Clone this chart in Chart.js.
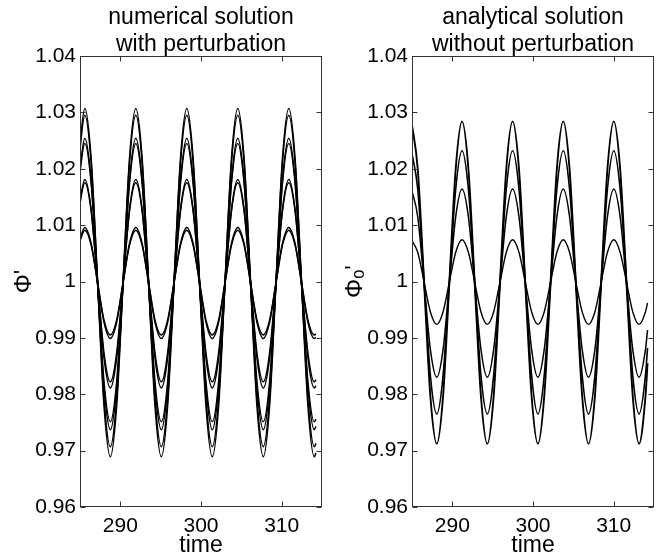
<!DOCTYPE html>
<html>
<head>
<meta charset="utf-8">
<script src="https://cdn.jsdelivr.net/npm/chart.js@4/dist/chart.umd.min.js"></script>
<style>
  body { margin: 0; background: #fff; }
  #wrap { position: relative; width: 662px; height: 557px; }
  canvas { position: absolute; top: 0; }
</style>
</head>
<body>
<div id="wrap">
  <canvas id="left" width="331" height="557" style="left:0"></canvas>
  <canvas id="right" width="331" height="557" style="left:331px"></canvas>
</div>
<script>
// axis ticks
const timeTicks = [290, 300, 310];
const phiTicks = [0.96, 0.97, 0.98, 0.99, 1.00, 1.01, 1.02, 1.03, 1.04];
const phiLabels = ['0.96', '0.97', '0.98', '0.99', '1', '1.01', '1.02', '1.03', '1.04'];

// left panel: numerical solution with perturbation
const timeNum = [284.81, 285.60, 286.39, 287.18, 287.97, 288.76, 289.55, 290.34,
  291.13, 291.92, 292.71, 293.50, 294.29, 295.08, 295.87, 296.66,
  297.45, 298.24, 299.03, 299.82, 300.61, 301.40, 302.19, 302.98,
  303.77, 304.56, 305.35, 306.14, 306.93, 307.72, 308.51, 309.30,
  310.09, 310.88, 311.67, 312.46, 313.25, 314.04, 314.25];

const numA1 = [1.0217, 1.0307, 1.0217, 0.9998, 0.9780, 0.9689, 0.9780, 0.9998,
  1.0217, 1.0307, 1.0217, 0.9998, 0.9780, 0.9689, 0.9780, 0.9998,
  1.0217, 1.0307, 1.0217, 0.9998, 0.9780, 0.9689, 0.9780, 0.9998,
  1.0217, 1.0307, 1.0217, 0.9998, 0.9780, 0.9689, 0.9780, 0.9998,
  1.0217, 1.0307, 1.0217, 0.9998, 0.9780, 0.9689, 0.9696];
const numA2 = [1.0209, 1.0295, 1.0209, 1.0001, 0.9793, 0.9707, 0.9793, 1.0001,
  1.0209, 1.0295, 1.0209, 1.0001, 0.9793, 0.9707, 0.9793, 1.0001,
  1.0209, 1.0295, 1.0209, 1.0001, 0.9793, 0.9707, 0.9793, 1.0001,
  1.0209, 1.0295, 1.0209, 1.0001, 0.9793, 0.9707, 0.9793, 1.0001,
  1.0209, 1.0295, 1.0209, 1.0001, 0.9793, 0.9707, 0.9713];
const numB1 = [1.0178, 1.0254, 1.0178, 0.9996, 0.9813, 0.9737, 0.9813, 0.9996,
  1.0178, 1.0254, 1.0178, 0.9996, 0.9813, 0.9737, 0.9813, 0.9996,
  1.0178, 1.0254, 1.0178, 0.9996, 0.9813, 0.9737, 0.9813, 0.9996,
  1.0178, 1.0254, 1.0178, 0.9996, 0.9813, 0.9737, 0.9813, 0.9996,
  1.0178, 1.0254, 1.0178, 0.9996, 0.9813, 0.9737, 0.9743];
const numB2 = [1.0173, 1.0245, 1.0173, 0.9998, 0.9823, 0.9751, 0.9823, 0.9998,
  1.0173, 1.0245, 1.0173, 0.9998, 0.9823, 0.9751, 0.9823, 0.9998,
  1.0173, 1.0245, 1.0173, 0.9998, 0.9823, 0.9751, 0.9823, 0.9998,
  1.0173, 1.0245, 1.0173, 0.9998, 0.9823, 0.9751, 0.9823, 0.9998,
  1.0173, 1.0245, 1.0173, 0.9998, 0.9823, 0.9751, 0.9756];
const numC1 = [1.0127, 1.0181, 1.0127, 0.9996, 0.9865, 0.9811, 0.9865, 0.9996,
  1.0127, 1.0181, 1.0127, 0.9996, 0.9865, 0.9811, 0.9865, 0.9996,
  1.0127, 1.0181, 1.0127, 0.9996, 0.9865, 0.9811, 0.9865, 0.9996,
  1.0127, 1.0181, 1.0127, 0.9996, 0.9865, 0.9811, 0.9865, 0.9996,
  1.0127, 1.0181, 1.0127, 0.9996, 0.9865, 0.9811, 0.9815];
const numC2 = [1.0124, 1.0175, 1.0124, 0.9999, 0.9874, 0.9822, 0.9874, 0.9999,
  1.0124, 1.0175, 1.0124, 0.9999, 0.9874, 0.9822, 0.9874, 0.9999,
  1.0124, 1.0175, 1.0124, 0.9999, 0.9874, 0.9822, 0.9874, 0.9999,
  1.0124, 1.0175, 1.0124, 0.9999, 0.9874, 0.9822, 0.9874, 0.9999,
  1.0124, 1.0175, 1.0124, 0.9999, 0.9874, 0.9822, 0.9826];
const numD1 = [1.0067, 1.0096, 1.0067, 0.9998, 0.9928, 0.9899, 0.9928, 0.9998,
  1.0067, 1.0096, 1.0067, 0.9998, 0.9928, 0.9899, 0.9928, 0.9998,
  1.0067, 1.0096, 1.0067, 0.9998, 0.9928, 0.9899, 0.9928, 0.9998,
  1.0067, 1.0096, 1.0067, 0.9998, 0.9928, 0.9899, 0.9928, 0.9998,
  1.0067, 1.0096, 1.0067, 0.9998, 0.9928, 0.9899, 0.9901];
const numD2 = [1.0064, 1.0091, 1.0064, 0.9998, 0.9932, 0.9905, 0.9932, 0.9998,
  1.0064, 1.0091, 1.0064, 0.9998, 0.9932, 0.9905, 0.9932, 0.9998,
  1.0064, 1.0091, 1.0064, 0.9998, 0.9932, 0.9905, 0.9932, 0.9998,
  1.0064, 1.0091, 1.0064, 0.9998, 0.9932, 0.9905, 0.9932, 0.9998,
  1.0064, 1.0091, 1.0064, 0.9998, 0.9932, 0.9905, 0.9907];

// right panel: analytical solution without perturbation
const timeAna = [284.93, 285.71, 286.50, 287.28, 288.07, 288.85, 289.63, 290.42,
  291.20, 291.99, 292.77, 293.55, 294.34, 295.12, 295.91, 296.69,
  297.47, 298.26, 299.04, 299.83, 300.61, 301.39, 302.18, 302.96,
  303.75, 304.53, 305.31, 306.10, 306.88, 307.67, 308.45, 309.23,
  310.02, 310.80, 311.59, 312.37, 313.15, 313.94, 314.20];

const anaR1 = [1.0284, 1.0200, 0.9998, 0.9796, 0.9712, 0.9796, 0.9998, 1.0200,
  1.0284, 1.0200, 0.9998, 0.9796, 0.9712, 0.9796, 0.9998, 1.0200,
  1.0284, 1.0200, 0.9998, 0.9796, 0.9712, 0.9796, 0.9998, 1.0200,
  1.0284, 1.0200, 0.9998, 0.9796, 0.9712, 0.9796, 0.9998, 1.0200,
  1.0284, 1.0200, 0.9998, 0.9796, 0.9712, 0.9796, 0.9855];
const anaR2 = [1.0232, 1.0164, 0.9999, 0.9833, 0.9765, 0.9833, 0.9999, 1.0164,
  1.0232, 1.0164, 0.9999, 0.9833, 0.9765, 0.9833, 0.9999, 1.0164,
  1.0232, 1.0164, 0.9999, 0.9833, 0.9765, 0.9833, 0.9999, 1.0164,
  1.0232, 1.0164, 0.9999, 0.9833, 0.9765, 0.9833, 0.9999, 1.0164,
  1.0232, 1.0164, 0.9999, 0.9833, 0.9765, 0.9833, 0.9882];
const anaR3 = [1.0164, 1.0115, 0.9997, 0.9879, 0.9830, 0.9879, 0.9997, 1.0115,
  1.0164, 1.0115, 0.9997, 0.9879, 0.9830, 0.9879, 0.9997, 1.0115,
  1.0164, 1.0115, 0.9997, 0.9879, 0.9830, 0.9879, 0.9997, 1.0115,
  1.0164, 1.0115, 0.9997, 0.9879, 0.9830, 0.9879, 0.9997, 1.0115,
  1.0164, 1.0115, 0.9997, 0.9879, 0.9830, 0.9879, 0.9914];
const anaR4 = [1.0074, 1.0052, 0.9999, 0.9946, 0.9924, 0.9946, 0.9999, 1.0052,
  1.0074, 1.0052, 0.9999, 0.9946, 0.9924, 0.9946, 0.9999, 1.0052,
  1.0074, 1.0052, 0.9999, 0.9946, 0.9924, 0.9946, 0.9999, 1.0052,
  1.0074, 1.0052, 0.9999, 0.9946, 0.9924, 0.9946, 0.9999, 1.0052,
  1.0074, 1.0052, 0.9999, 0.9946, 0.9924, 0.9946, 0.9962];

const FONT = "'Liberation Sans', Arial, 'DejaVu Sans', sans-serif";

// box round the plot with matlab style inner ticks
const framePlugin = {
  id: 'frame',
  afterDatasetsDraw(chart) {
    const { ctx, chartArea: a, scales: { x, y } } = chart;
    const l = Math.round(a.left) + 0.5, r = Math.round(a.right) - 0.5;
    const t = Math.round(a.top) + 0.5, b = Math.round(a.bottom) - 0.5;
    ctx.save();
    ctx.strokeStyle = '#333';
    ctx.lineWidth = 1;
    ctx.strokeRect(l, t, r - l, b - t);
    ctx.beginPath();
    timeTicks.forEach(v => {
      const px = Math.round(x.getPixelForValue(v)) + 0.5;
      ctx.moveTo(px, b); ctx.lineTo(px, b - 5);
      ctx.moveTo(px, t); ctx.lineTo(px, t + 5);
    });
    phiTicks.forEach(v => {
      const py = Math.round(y.getPixelForValue(v)) + 0.5;
      ctx.moveTo(l, py); ctx.lineTo(l + 5, py);
      ctx.moveTo(r, py); ctx.lineTo(r - 5, py);
    });
    ctx.stroke();
    ctx.restore();
  }
};

function makeSet(times, vals, w) {
  return {
    data: times.map((t, i) => ({ x: t, y: vals[i] })),
    borderColor: '#000',
    borderWidth: w,
    pointRadius: 0,
    fill: false,
    cubicInterpolationMode: 'monotone'
  };
}

function makeChart(id, titleLines, yTitle, sets, yWidth, padRight) {
  new Chart(document.getElementById(id), {
    type: 'line',
    data: { datasets: sets },
    plugins: [framePlugin],
    options: {
      responsive: false,
      animation: false,
      events: [],
      layout: { padding: { left: 0, right: padRight, top: 0, bottom: 0 } },
      plugins: {
        legend: { display: false },
        tooltip: { enabled: false },
        title: {
          display: true,
          text: titleLines,
          color: '#000',
          fullSize: false,
          font: { family: FONT, size: 23, weight: 'normal', lineHeight: '27px' },
          padding: { top: 4, bottom: -2 }
        }
      },
      scales: {
        x: {
          type: 'linear',
          min: 285,
          max: 315,
          afterBuildTicks: s => { s.ticks = timeTicks.map(v => ({ value: v })); },
          afterFit: s => { s.height = 50; },
          grid: { display: false, drawTicks: false },
          border: { display: false },
          ticks: {
            color: '#000',
            padding: 7,
            maxRotation: 0,
            autoSkip: false,
            font: { family: FONT, size: 21 },
            callback: v => String(v)
          },
          title: {
            display: true,
            text: 'time',
            color: '#000',
            font: { family: FONT, size: 23, lineHeight: 1 },
            padding: { top: 0, bottom: 0 }
          }
        },
        y: {
          type: 'linear',
          min: 0.96,
          max: 1.04,
          afterBuildTicks: s => { s.ticks = phiTicks.map(v => ({ value: v })); },
          afterFit: s => { s.width = yWidth; },
          grid: { display: false, drawTicks: false },
          border: { display: false },
          ticks: {
            color: '#000',
            padding: 4,
            autoSkip: false,
            font: { family: FONT, size: 21 },
            callback: (v, i) => phiLabels[i]
          },
          title: {
            display: true,
            text: yTitle,
            color: '#000',
            font: { family: FONT, size: 24, lineHeight: 1.2 },
            padding: { top: 10, bottom: 0 }
          }
        }
      }
    }
  });
}

makeChart('left', ['numerical solution', 'with perturbation'], "\u03A6'", [
  makeSet(timeNum, numA1, 1.5), makeSet(timeNum, numA2, 1.5),
  makeSet(timeNum, numB1, 1.5), makeSet(timeNum, numB2, 1.5),
  makeSet(timeNum, numC1, 1.5), makeSet(timeNum, numC2, 1.5),
  makeSet(timeNum, numD1, 1.5), makeSet(timeNum, numD2, 1.5)
], 80, 9);

makeChart('right', ['analytical solution', 'without perturbation'], "\u03A6\u2092'", [
  makeSet(timeAna, anaR1, 1.9), makeSet(timeAna, anaR2, 1.6),
  makeSet(timeAna, anaR3, 1.5), makeSet(timeAna, anaR4, 1.4)
], 81, 8);
</script>
</body>
</html>
